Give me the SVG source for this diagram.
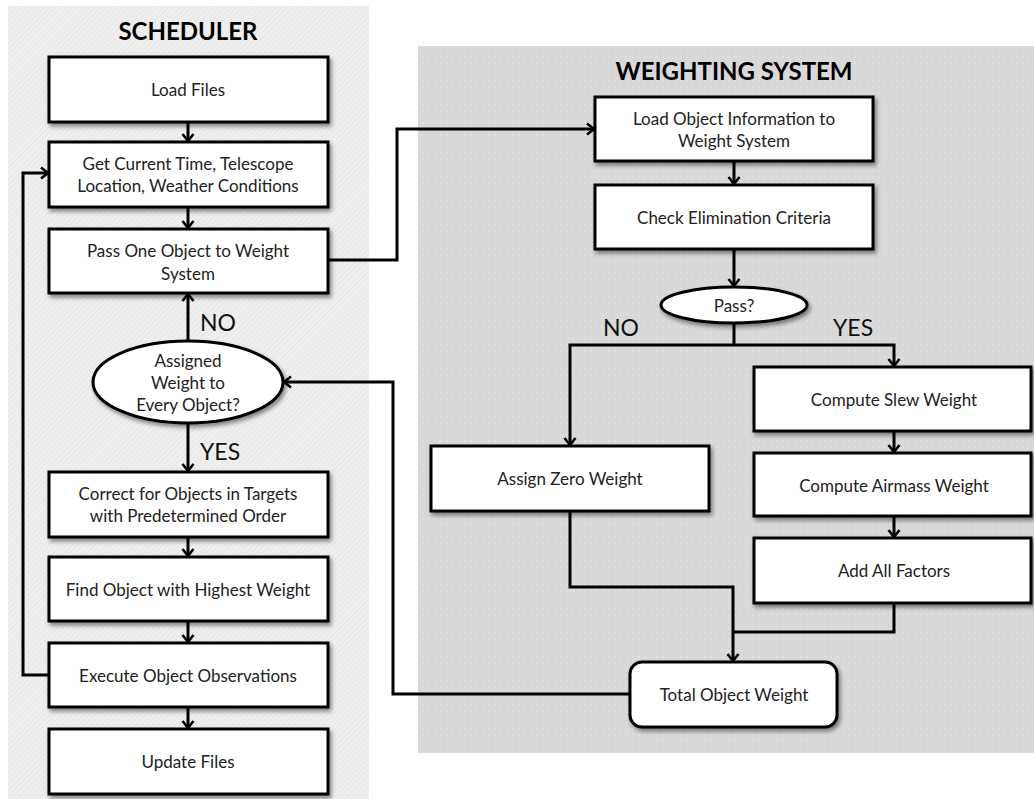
<svg xmlns="http://www.w3.org/2000/svg" width="1034" height="799" viewBox="0 0 1034 799">
<style>
.box{fill:#fff;stroke:#000;stroke-width:3;filter:url(#sh)}
.t{font-family:Lato,"Open Sans",sans-serif;font-size:17px;fill:#222;text-anchor:middle;dominant-baseline:central}
.title{font-family:Lato,"Open Sans",sans-serif;font-size:24px;font-weight:bold;fill:#000;text-anchor:middle;dominant-baseline:central}
.lbl{font-family:Lato,"Open Sans",sans-serif;font-size:23px;fill:#111;dominant-baseline:central}
.c{fill:none;stroke:#000;stroke-width:3}
.a{marker-end:url(#arr)}
</style>
<defs>
<filter id="sh" x="-10%" y="-20%" width="130%" height="150%">
<feDropShadow dx="2" dy="3" stdDeviation="2" flood-color="#000" flood-opacity="0.45"/>
</filter>
<marker id="arr" markerUnits="userSpaceOnUse" markerWidth="14" markerHeight="14" refX="9" refY="7" orient="auto">
<path d="M2,1.5 L9,7 L2,12.5" fill="none" stroke="#000" stroke-width="2.6"/>
</marker>
<pattern id="stripe" width="4" height="4" patternUnits="userSpaceOnUse" patternTransform="rotate(45)">
<rect width="4" height="4" fill="#efefef"/>
<rect width="1" height="4" fill="#e6e6e6"/>
</pattern>
<pattern id="dots" width="6" height="6" patternUnits="userSpaceOnUse">
<rect width="6" height="6" fill="#d8d8d8"/>
<circle cx="3" cy="3" r="0.9" fill="#e2e2e2"/>
</pattern>
</defs>
<rect width="1034" height="799" fill="#fff"/>
<g id="panel-scheduler">
<rect x="8" y="6" width="361" height="793" fill="url(#stripe)"/>
<text class="title" x="188" y="30">SCHEDULER</text>
</g>
<g id="panel-weighting">
<rect x="418" y="46" width="616" height="707" fill="url(#dots)"/>
<text class="title" x="734" y="70">WEIGHTING SYSTEM</text>
</g>
<g id="connectors">
<path class="c a" d="M188,122 V141"/>
<path class="c a" d="M188,207 V228"/>
<path class="c a" d="M188,341 V294"/>
<path class="c a" d="M188,423 V471"/>
<path class="c a" d="M188,537 V556"/>
<path class="c a" d="M188,621 V642"/>
<path class="c a" d="M188,707 V728"/>
<path class="c a" d="M49,675 H23 V173 H48"/>
<path class="c a" d="M328,260 H397 V129 H594"/>
<path class="c a" d="M734,161 V184"/>
<path class="c a" d="M734,249 V286"/>
<path class="c" d="M734,323 V345"/>
<path class="c a" d="M734,345 H570 V445"/>
<path class="c a" d="M734,345 H894 V366"/>
<path class="c a" d="M894,431 V452"/>
<path class="c a" d="M894,516 V537"/>
<path class="c" d="M894,603 V632 H733"/>
<path class="c a" d="M570,511 V587 H733 V661"/>
<path class="c a" d="M630,694 H393 V382 H284"/>
</g>
<g id="lbl-no-left"><text class="lbl" x="200" y="322">NO</text></g>
<g id="lbl-yes-left"><text class="lbl" x="200" y="451">YES</text></g>
<g id="lbl-no-right"><text class="lbl" x="603" y="327">NO</text></g>
<g id="lbl-yes-right"><text class="lbl" x="833" y="327">YES</text></g>
<g id="load-files">
<rect class="box" x="49" y="57" width="279" height="65"/>
<text class="t" x="188" y="89">Load Files</text>
</g>
<g id="get-current">
<rect class="box" x="49" y="142" width="279" height="65"/>
<text class="t" x="188" y="163">Get Current Time, Telescope</text>
<text class="t" x="188" y="185">Location, Weather Conditions</text>
</g>
<g id="pass-one">
<rect class="box" x="49" y="229" width="279" height="64"/>
<text class="t" x="188" y="250">Pass One Object to Weight</text>
<text class="t" x="188" y="273">System</text>
</g>
<g id="assigned">
<ellipse class="box" cx="188" cy="382" rx="95" ry="41"/>
<text class="t" x="188" y="360">Assigned</text>
<text class="t" x="188" y="382">Weight to</text>
<text class="t" x="188" y="404">Every Object?</text>
</g>
<g id="correct">
<rect class="box" x="49" y="472" width="279" height="65"/>
<text class="t" x="188" y="493">Correct for Objects in Targets</text>
<text class="t" x="188" y="515">with Predetermined Order</text>
</g>
<g id="find">
<rect class="box" x="49" y="557" width="279" height="64"/>
<text class="t" x="188" y="589">Find Object with Highest Weight</text>
</g>
<g id="execute">
<rect class="box" x="49" y="643" width="279" height="64"/>
<text class="t" x="188" y="675">Execute Object Observations</text>
</g>
<g id="update">
<rect class="box" x="49" y="729" width="279" height="65"/>
<text class="t" x="188" y="761">Update Files</text>
</g>
<g id="load-object">
<rect class="box" x="595" y="97" width="278" height="64"/>
<text class="t" x="734" y="118">Load Object Information to</text>
<text class="t" x="734" y="140">Weight System</text>
</g>
<g id="check">
<rect class="box" x="595" y="185" width="278" height="64"/>
<text class="t" x="734" y="217">Check Elimination Criteria</text>
</g>
<g id="pass">
<ellipse class="box" cx="734" cy="305" rx="73" ry="18"/>
<text class="t" x="734" y="305">Pass?</text>
</g>
<g id="assign-zero">
<rect class="box" x="431" y="446" width="278" height="65"/>
<text class="t" x="570" y="478">Assign Zero Weight</text>
</g>
<g id="slew">
<rect class="box" x="754" y="367" width="277" height="64"/>
<text class="t" x="894" y="399">Compute Slew Weight</text>
</g>
<g id="airmass">
<rect class="box" x="754" y="453" width="277" height="63"/>
<text class="t" x="894" y="485">Compute Airmass Weight</text>
</g>
<g id="add">
<rect class="box" x="754" y="538" width="277" height="65"/>
<text class="t" x="894" y="570">Add All Factors</text>
</g>
<g id="total">
<rect class="box" x="630" y="662" width="207" height="65" rx="12" ry="12"/>
<text class="t" x="734" y="694">Total Object Weight</text>
</g>
</svg>
